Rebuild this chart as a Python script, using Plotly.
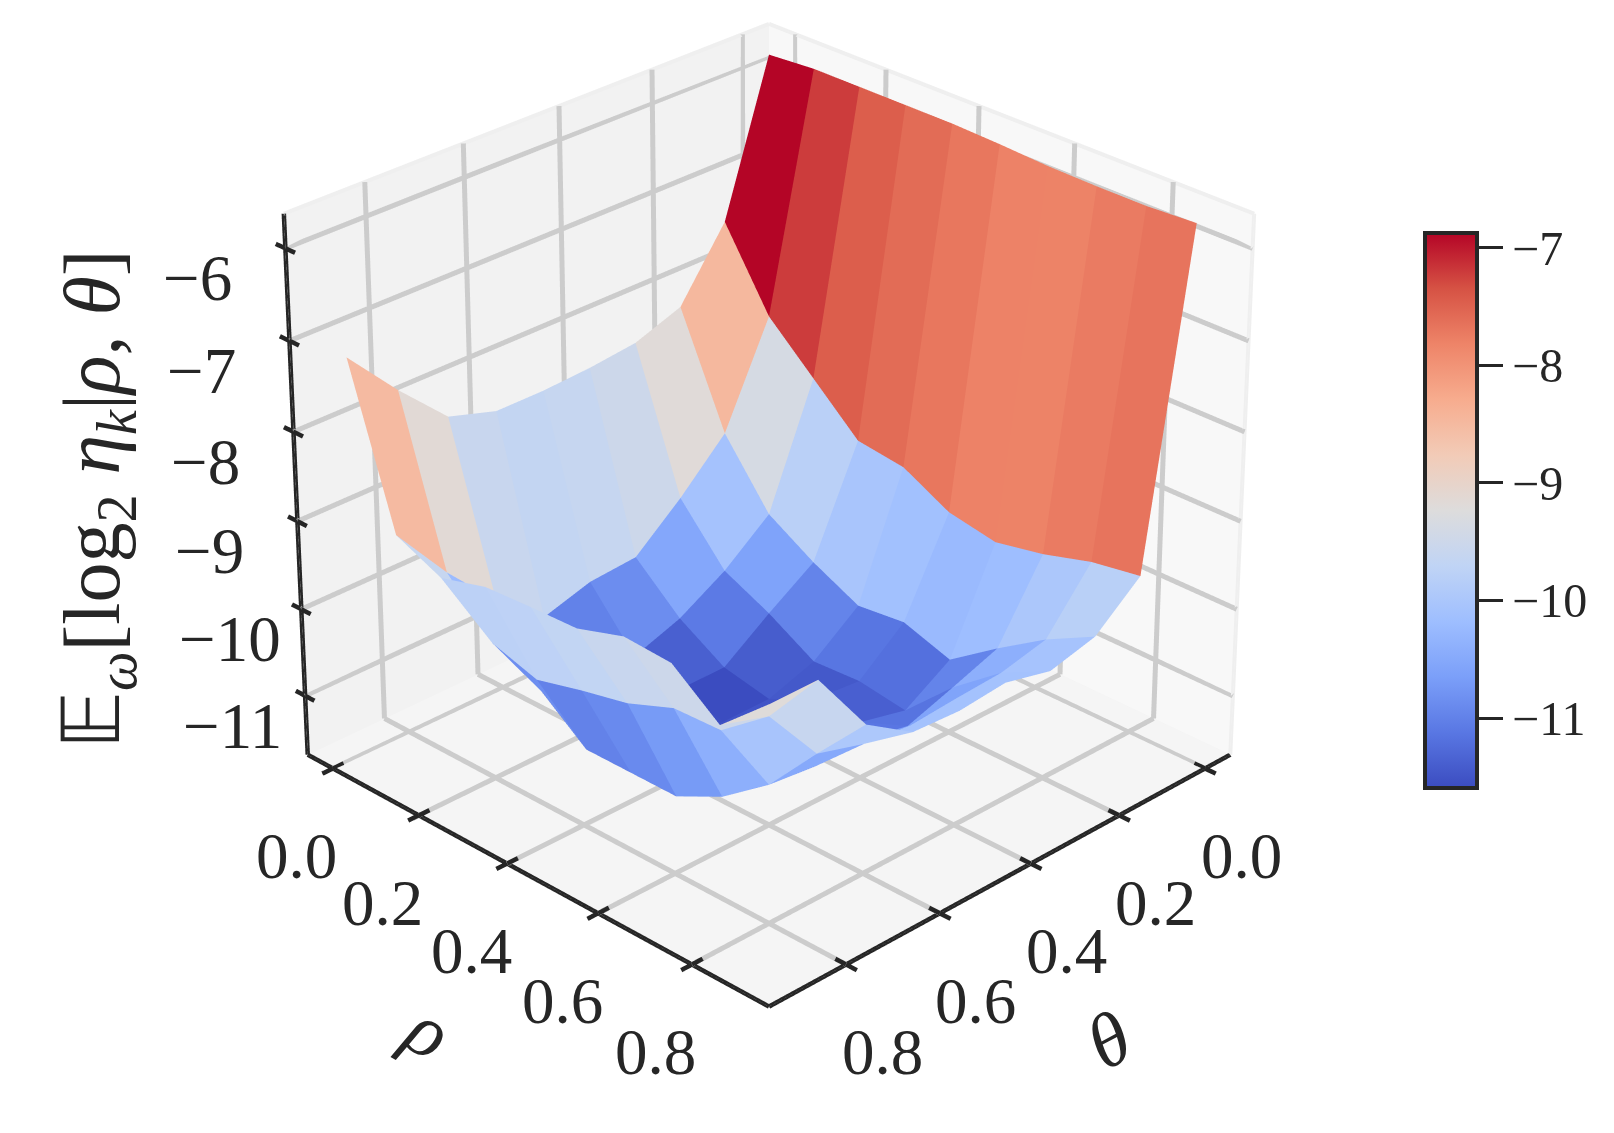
import numpy as np
import plotly.graph_objects as go

rho = [0.0, 0.1, 0.2, 0.3, 0.4, 0.5, 0.6, 0.7, 0.8, 0.9]
theta = [0.0, 0.1, 0.2, 0.3, 0.4, 0.5, 0.6, 0.7, 0.8, 0.9]
# rows: rho index, columns: theta index
z_rho00 = [-5.74, -7.43, -8.19, -8.38, -8.44, -8.47, -8.47, -8.30, -7.77, -7.18]
z_rho01 = [-5.70, -8.30, -9.43, -9.95, -10.40, -10.44, -10.60, -10.15, -9.58, -8.91]
z_rho02 = [-5.70, -8.79, -10.14, -10.56, -10.87, -11.06, -11.09, -10.95, -10.13, -9.14]
z_rho03 = [-5.70, -9.28, -10.46, -10.81, -11.19, -11.19, -11.19, -11.36, -10.29, -8.99]
z_rho04 = [-5.70, -9.35, -10.72, -11.12, -11.30, -11.30, -11.23, -11.36, -10.15, -8.96]
z_rho05 = [-5.72, -9.63, -10.66, -11.09, -11.04, -11.05, -11.19, -11.36, -10.03, -8.94]
z_rho06 = [-5.75, -9.73, -10.84, -11.17, -11.04, -11.00, -11.00, -11.09, -9.82, -8.77]
z_rho07 = [-5.76, -9.62, -10.45, -10.64, -10.82, -10.71, -10.74, -10.68, -9.80, -8.80]
z_rho08 = [-5.76, -9.46, -10.09, -10.21, -10.24, -10.28, -10.22, -10.06, -9.38, -9.21]
z_rho09 = [-5.73, -9.37, -9.80, -9.93, -9.80, -9.85, -9.82, -9.47, -8.72, -8.72]
Z = np.array([z_rho00, z_rho01, z_rho02, z_rho03, z_rho04, z_rho05, z_rho06, z_rho07, z_rho08, z_rho09])

# colour level seen in the reference for a given mean height of a face
MEAN_HEIGHT = [-11.25, -10.85, -10.2, -9.3, -7.5, -6.5]
COLOUR_LEVEL = [-11.59, -11.05, -10.2, -9.5, -7.58, -6.6]

coolwarm = ["#3b4cc0", "#5977e3", "#7b9ff9", "#9ebeff", "#c0d4f5", "#dddcdc",
            "#f2cbb7", "#f7ac8e", "#ee8468", "#d65244", "#b40426"]
scale = [[k / 10, c] for k, c in enumerate(coolwarm)]

TICKS = [0.0, 0.2, 0.4, 0.6, 0.8]
ZTICKS = [-11, -10, -9, -8, -7, -6]
CB_TICKS = [-11, -10, -9, -8, -7]
LO, HI = -0.06, 0.96
ZLO, ZHI = -11.69, -5.63
SERIF = "Liberation Serif"
INK = "#262626"
GRID = "#cccccc"
FLAT = dict(ambient=1.0, diffuse=0.0, specular=0.0, fresnel=0.0, roughness=1.0)

# The scene is viewed orthographically; this helper bends coordinates so the
# picture keeps the reference's mild perspective (viewer distance 10 box units).
ELEV = np.radians(27.7)
SE, CE = np.sin(ELEV), np.cos(ELEV)
HALF, ZHALF = 0.595, 0.543
DIST = 10.0
LIFT = 0.0373
XC, XH = (LO + HI) / 2, (HI - LO) / 2
ZC, ZH = (ZLO + ZHI) / 2, (ZHI - ZLO) / 2


def view(px, py, pz):
    """px=theta, py=rho, pz=value -> bent coordinates for the orthographic scene."""
    V = (px - XC) / XH * HALF
    U = (py - XC) / XH * HALF
    H = (pz - ZC) / ZH * ZHALF
    a, d = (U - V) / np.sqrt(2), (U + V) / np.sqrt(2)
    t, w = H * CE - d * SE, d * CE + H * SE
    p = DIST / (DIST - w)
    a2, t2 = a * p, t * p + LIFT
    d2, h2 = w * CE - t2 * SE, t2 * CE + w * SE
    U2, V2 = (d2 + a2) / np.sqrt(2), (d2 - a2) / np.sqrt(2)
    return XC + V2 / HALF * XH, XC + U2 / HALF * XH, ZC + h2 / ZHALF * ZH


def quad(corners, color):
    xs, ys, zs = zip(*[view(*c) for c in corners])
    return go.Mesh3d(x=xs, y=ys, z=zs, i=[0, 0], j=[1, 2], k=[2, 3], color=color, flatshading=True,
                     lighting=FLAT, hoverinfo="skip", showscale=False)


def segs(items, color, width):
    xs, ys, zs = [], [], []
    for a, b in items:
        a2, b2 = view(*a), view(*b)
        xs += [a2[0], b2[0], None]
        ys += [a2[1], b2[1], None]
        zs += [a2[2], b2[2], None]
    return go.Scatter3d(x=xs, y=ys, z=zs, mode="lines", line=dict(color=color, width=width),
                        hoverinfo="skip", showlegend=False)


n, m = Z.shape
xv, yv, zv, ii, jj, kk, cell = [], [], [], [], [], [], []
for a in range(n):
    for b in range(m):
        vx, vy, vz = view(theta[b], rho[a], Z[a, b])
        xv.append(vx); yv.append(vy); zv.append(vz)
for a in range(n - 1):
    for b in range(m - 1):
        p00 = a * m + b
        p01 = a * m + b + 1
        p10 = (a + 1) * m + b
        p11 = (a + 1) * m + b + 1
        face = float(np.interp(Z[a:a + 2, b:b + 2].mean(), MEAN_HEIGHT, COLOUR_LEVEL))
        ii += [p00, p00]; jj += [p01, p11]; kk += [p11, p10]
        cell += [face, face]

surface = go.Mesh3d(
    x=xv, y=yv, z=zv, i=ii, j=jj, k=kk,
    intensity=cell, intensitymode="cell", colorscale=scale,
    cmin=-11.59, cmax=-6.87, flatshading=True, hoverinfo="skip", lighting=FLAT,
    colorbar=dict(
        x=1417 / 1614, xanchor="left", y=1 - 502 / 1133, yanchor="middle",
        thickness=52, thicknessmode="pixels", len=555, lenmode="pixels",
        outlinewidth=4, outlinecolor=INK, ticks="outside", ticklen=24, tickwidth=3,
        tickcolor=INK, tickvals=CB_TICKS, ticktext=["\u2212%d" % abs(t) for t in CB_TICKS],
        tickfont=dict(family=SERIF, size=48, color=INK), xpad=0, ypad=0),
)

grid = []
for t in TICKS:
    grid.append(((t, LO, ZLO), (t, HI, ZLO)))
    grid.append(((LO, t, ZLO), (HI, t, ZLO)))
    grid.append(((t, LO, ZLO), (t, LO, ZHI)))
    grid.append(((LO, t, ZLO), (LO, t, ZHI)))
for t in ZTICKS:
    grid.append(((LO, LO, t), (HI, LO, t)))
    grid.append(((LO, LO, t), (LO, HI, t)))

edges = [((LO, LO, ZHI), (HI, LO, ZHI)), ((LO, LO, ZHI), (LO, HI, ZHI)), ((LO, HI, ZHI), (LO, HI, ZLO)),
         ((LO, LO, ZHI), (LO, LO, ZLO)), ((LO, LO, ZLO), (HI, LO, ZLO)), ((LO, LO, ZLO), (LO, HI, ZLO))]

dt = 0.022
axes = [((HI, LO, ZLO), (HI, HI, ZLO)), ((LO, HI, ZLO), (HI, HI, ZLO)), ((HI, LO, ZLO), (HI, LO, ZHI))]
for t in TICKS:
    axes.append(((HI - dt, t, ZLO), (HI + dt, t, ZLO)))
    axes.append(((t, HI - dt, ZLO), (t, HI + dt, ZLO)))
for t in ZTICKS:
    axes.append(((HI, LO - dt, t), (HI, LO + dt, t)))

labels = []


def label(pt, text, **kw):
    vx, vy, vz = view(*pt)
    labels.append(dict(x=vx, y=vy, z=vz, text=text, showarrow=False, yanchor="middle",
                       font=dict(family=SERIF, size=65, color=INK), **kw))


for t in TICKS:
    label((HI, t, ZLO), "%.1f" % t, xshift=-36, yshift=-87, xanchor="center")
    label((t, HI, ZLO), "%.1f" % t, xshift=36, yshift=-87, xanchor="center")
for t in ZTICKS:
    label((HI, LO, t), "\u2212%d" % abs(t), xshift=-124, yshift=-30, xanchor="left")

hidden = dict(visible=False, showspikes=False)
PAD, ZPAD = 0.2, 1.3
ZOOM = 1.327
r = 1.5
fig = go.Figure([
    quad([(LO, LO, ZLO), (HI, LO, ZLO), (HI, HI, ZLO), (LO, HI, ZLO)], "#f5f5f5"),
    quad([(LO, LO, ZLO), (HI, LO, ZLO), (HI, LO, ZHI), (LO, LO, ZHI)], "#f2f2f2"),
    quad([(LO, LO, ZLO), (LO, HI, ZLO), (LO, HI, ZHI), (LO, LO, ZHI)], "#f8f8f8"),
    segs(edges, "#efefef", 8),
    segs(grid, GRID, 10),
    surface,
    segs(axes, INK, 9),
])
fig.update_layout(
    width=1614, height=1133, paper_bgcolor="white", margin=dict(l=0, r=0, t=0, b=0),
    showlegend=False,
    scene=dict(
        domain=dict(x=[0, 0.943], y=[0.11, 1.0]),
        xaxis=dict(range=[LO - PAD, HI + PAD], **hidden),
        yaxis=dict(range=[LO - PAD, HI + PAD], **hidden),
        zaxis=dict(range=[ZLO - ZPAD, ZHI + ZPAD], **hidden),
        aspectmode="manual",
        aspectratio=dict(x=ZOOM * (HI - LO + 2 * PAD) / (HI - LO), y=ZOOM * (HI - LO + 2 * PAD) / (HI - LO),
                         z=ZOOM * 0.913 * (ZHI - ZLO + 2 * ZPAD) / (ZHI - ZLO)),
        camera=dict(
            projection=dict(type="orthographic"),
            eye=dict(x=r * CE * np.sqrt(0.5), y=r * CE * np.sqrt(0.5), z=r * SE),
            center=dict(x=0, y=0, z=0), up=dict(x=0, y=0, z=1)),
        annotations=labels,
    ),
    annotations=[
        dict(text="\U0001D53C<sub><i>\u03c9</i></sub>[log<sub>2</sub> <i>\u03b7<sub>k</sub></i>|<i>\u03c1</i>, <i>\u03b8</i>]",
             x=90 / 1614, y=1 - 492 / 1133, xref="paper", yref="paper", textangle=-90, xanchor="center", yanchor="middle",
             showarrow=False, font=dict(family=SERIF, size=80, color=INK)),
        dict(text="<i>\u03c1</i>", x=420 / 1614, y=1 - 1022 / 1133, xref="paper", yref="paper", xanchor="center", yanchor="middle",
             showarrow=False, font=dict(family=SERIF, size=76, color=INK), textangle=30),
        dict(text="<i>\u03b8</i>", x=1100 / 1614, y=1 - 1032 / 1133, xref="paper", yref="paper", xanchor="center", yanchor="middle",
             showarrow=False, font=dict(family=SERIF, size=76, color=INK), textangle=-28),
    ],
)
fig.write_html("out.html")
